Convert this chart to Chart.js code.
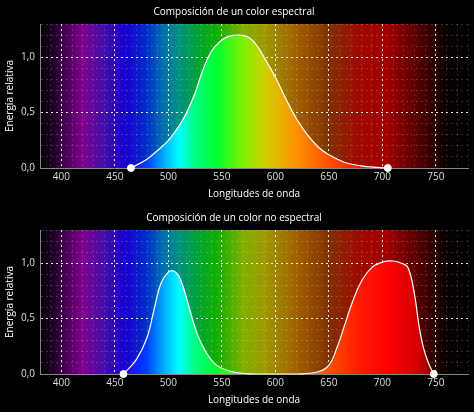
<!DOCTYPE html>
<html><head><meta charset="utf-8">
<script src="https://cdn.jsdelivr.net/npm/chart.js@4"></script>
<style>
body{margin:0;background:#000;}
.box{width:474px;height:206px;}
</style></head><body>
<div class="box"><canvas id="top"></canvas></div>
<div class="box"><canvas id="bottom"></canvas></div>
<script>
// spectral curve (wavelength nm, relative energy)
var specX = [465, 480, 490, 500, 510, 517, 525, 532, 540, 548, 557, 566, 575, 583, 590, 600, 610, 620, 630, 640, 650, 665, 680, 695, 705];
var specY = [0, 0.08, 0.16, 0.25, 0.38, 0.5, 0.68, 0.88, 1.05, 1.14, 1.19, 1.2, 1.18, 1.1, 0.99, 0.82, 0.62, 0.44, 0.3, 0.19, 0.12, 0.05, 0.02, 0.005, 0];
// non spectral curve
var nonX = [458, 470, 480, 487, 493, 500, 505, 510, 515, 520, 527, 535, 545, 560, 580, 600, 620, 640, 650, 658, 665, 672, 680, 690, 700, 710, 718, 724, 730, 734, 738, 743, 748];
var nonY = [0, 0.13, 0.33, 0.6, 0.82, 0.92, 0.93, 0.88, 0.75, 0.58, 0.36, 0.2, 0.08, 0.02, 0, 0, 0, 0.02, 0.08, 0.25, 0.45, 0.65, 0.83, 0.96, 1.01, 1.02, 1.0, 0.96, 0.72, 0.45, 0.25, 0.1, 0];
var xTicks = [400, 450, 500, 550, 600, 650, 700, 750];
var yTicks = [0, 0.5, 1.0];

// colour stops across the spectrum
var stopNm = [380, 395, 420, 440, 460, 480, 495, 510, 525, 545, 570, 590, 620, 650, 680, 705, 735, 760, 780];
var stopCol = ['#000000','#3a0040','#9000a0','#6010c0','#2000ff','#0040ff','#00a8ff','#00ffff','#00ff80','#00ff30','#80f000','#d0d000','#ff9000','#ff5000','#ff1800','#ff0000','#d00000','#200000','#000000'];
var stopDark = ['#000000','#280030','#800090','#4010a8','#1800d0','#0030c8','#0070b0','#009080','#00a040','#10b000','#80b000','#a09800','#a06000','#803000','#a00800','#a00000','#500000','#080000','#000000'];

function gradient(chart, cols) {
  var a = chart.chartArea, xs = chart.scales.x;
  var g = chart.ctx.createLinearGradient(a.left, 0, a.right, 0);
  for (var i = 0; i < stopNm.length; i++) {
    var p = (xs.getPixelForValue(stopNm[i]) - a.left) / (a.right - a.left);
    g.addColorStop(Math.min(1, Math.max(0, p)), cols[i]);
  }
  return g;
}

var bgPlugin = {
  id: 'spectrumBg',
  beforeDraw: function(chart) {
    var a = chart.chartArea, ctx = chart.ctx;
    ctx.save();
    ctx.fillStyle = gradient(chart, stopDark);
    ctx.fillRect(a.left, a.top, a.right - a.left, a.bottom - a.top);
    ctx.restore();
  }
};

function makeChart(id, title, xs, ys) {
  var pts = xs.map(function(x, i) { return {x: x, y: ys[i]}; });
  var last = pts.length - 1;
  new Chart(document.getElementById(id), {
    type: 'line',
    data: {datasets: [{
      data: pts,
      borderColor: '#ffffff',
      borderWidth: 1.2,
      tension: 0.4,
      fill: 'origin',
      backgroundColor: function(c) { return c.chart.chartArea ? gradient(c.chart, stopCol) : '#fff'; },
      pointRadius: function(c) { return (c.dataIndex === 0 || c.dataIndex === last) ? 3.5 : 0; },
      pointBackgroundColor: '#ffffff',
      pointBorderColor: '#ffffff',
      pointBorderWidth: 1
    }]},
    plugins: [bgPlugin],
    options: {
      responsive: true,
      maintainAspectRatio: false,
      animation: false,
      clip: false,
      layout: {padding: {left: 0, right: 6, top: 0, bottom: 2}},
      plugins: {
        legend: {display: false},
        tooltip: {enabled: false},
        title: {display: true, text: title, color: '#ffffff', font: {family: 'Open Sans', size: 10, weight: 'normal'}, padding: {top: 6, bottom: 6}}
      },
      scales: {
        x: {
          type: 'linear', min: 380, max: 780,
          ticks: {stepSize: 10, autoSkip: false, maxRotation: 0, color: '#dddddd', font: {family: 'Open Sans', size: 10},
            callback: function(v) { return xTicks.indexOf(v) >= 0 ? String(v) : ''; }},
          grid: {
            color: function(c) { return xTicks.indexOf(c.tick.value) >= 0 ? 'rgba(255,255,255,0.9)' : 'rgba(255,255,255,0.18)'; },
            lineWidth: function(c) { return xTicks.indexOf(c.tick.value) >= 0 ? 1 : 0.8; },
            drawTicks: false
          },
          border: {color: '#888888', dash: [2, 3]},
          title: {display: true, text: 'Longitudes de onda', color: '#ffffff', font: {family: 'Open Sans', size: 10}, padding: {top: 2}}
        },
        y: {
          min: 0, max: 1.3,
          ticks: {stepSize: 0.1, autoSkip: false, color: '#dddddd', font: {family: 'Open Sans', size: 10}, padding: 5,
            callback: function(v) {
              var r = Math.round(v * 10) / 10;
              return yTicks.indexOf(r) >= 0 ? r.toFixed(1).replace('.', ',') : '';
            }},
          grid: {
            color: function(c) { var r = Math.round(c.tick.value * 10) / 10; return yTicks.indexOf(r) >= 0 && r > 0 ? 'rgba(255,255,255,0.9)' : 'rgba(255,255,255,0.18)'; },
            lineWidth: 1,
            drawTicks: false
          },
          border: {color: '#888888', dash: [2, 3]},
          title: {display: true, text: 'Energía relativa', color: '#ffffff', font: {family: 'Open Sans', size: 10}, padding: {bottom: 0}}
        }
      }
    }
  });
}

makeChart('top', 'Composición de un color espectral', specX, specY);
makeChart('bottom', 'Composición de un color no espectral', nonX, nonY);
</script>
</body></html>
